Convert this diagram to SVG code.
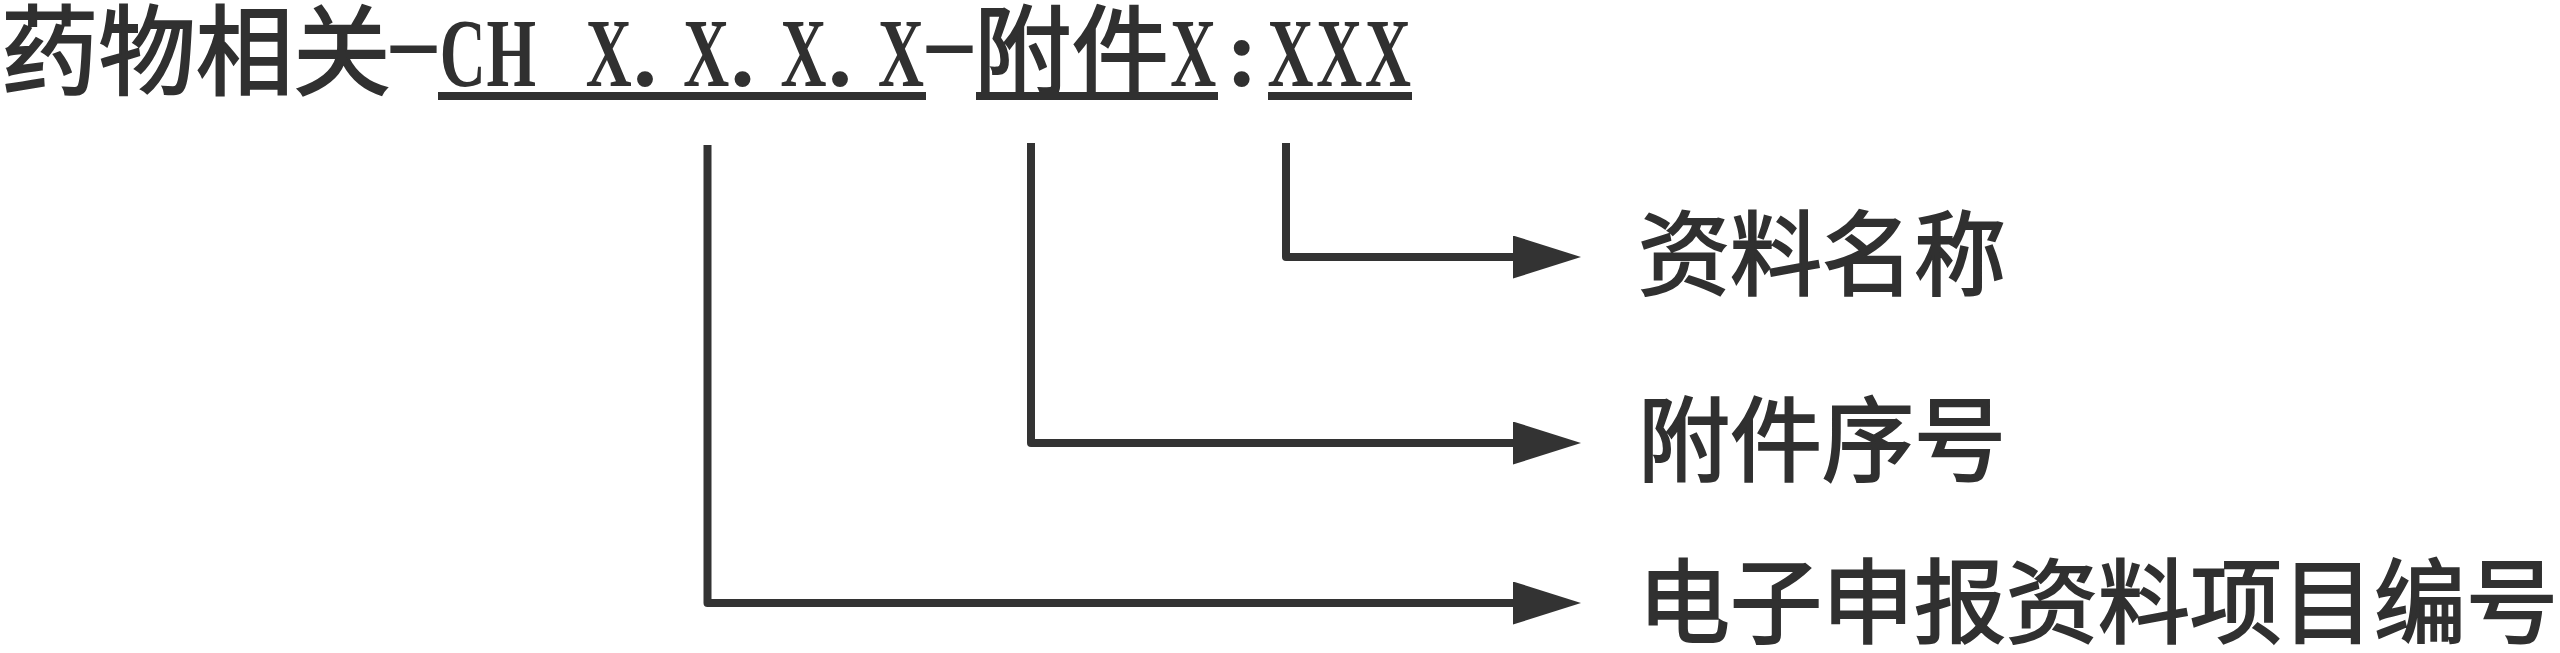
<svg xmlns="http://www.w3.org/2000/svg" width="2560" height="653" viewBox="0 0 2560 653">
<style>
.cjk{font-family:"Noto Sans CJK SC","Noto Sans CJK TC",sans-serif;fill:#303030;stroke:#303030;stroke-width:2}
.t{font-size:97.4px}
.lbl{font-size:92px}
.lat{font-family:"Liberation Serif","Times New Roman",serif;font-weight:bold;font-size:98px;fill:#303030;text-anchor:middle}
.hy{font-family:"Liberation Sans",Arial,sans-serif;font-size:97px;fill:#303030;text-anchor:middle}
.ul{stroke:#303030;stroke-width:8;fill:none}
.conn{stroke:#333;stroke-width:8;fill:none;stroke-linejoin:round}
</style>
<defs>
<marker id="ah" markerUnits="userSpaceOnUse" viewBox="0 0 68 43" markerWidth="68" markerHeight="43" refX="8" refY="21.5" orient="auto">
<path d="M0,0 L68,21.5 L0,43 Z" fill="#333"/>
</marker>
</defs>
<rect width="2560" height="653" fill="#ffffff"/>
<g id="title">
<text class="cjk t" x="1" y="87">药物相关</text>
<text class="hy" transform="translate(413.5,75) scale(1.95,1)">-</text>
<g transform="scale(0.65,1)">
<text class="lat" x="711.77 786.69" y="86">CH</text>
<text class="lat" x="936.54 1086.38 1236.23 1386.08" y="86">XXXX</text>
<text class="lat" x="1835.62" y="86">X</text>
<text class="lat" x="1985.46 2060.38 2135.31" y="86">XXX</text>
</g>
<text class="lat" x="645.1 742.5 839.9" y="86">...</text>
<text class="hy" transform="translate(949.6,75) scale(1.95,1)">-</text>
<text class="cjk t" x="974" y="87">附件</text>
<text class="lat" x="1242" y="86">:</text>
<line class="ul" x1="438" y1="96" x2="926" y2="96"/>
<line class="ul" x1="976" y1="96" x2="1218" y2="96"/>
<line class="ul" x1="1268" y1="96" x2="1412" y2="96"/>
</g>
<g id="connectors">
<path class="conn" d="M1286,143 V257 H1521" marker-end="url(#ah)"/>
<path class="conn" d="M1031,143 V443 H1521" marker-end="url(#ah)"/>
<path class="conn" d="M707.5,145 V603 H1521" marker-end="url(#ah)"/>
</g>
<g id="node-name"><text class="cjk lbl" x="1638" y="288">资料名称</text></g>
<g id="node-attach"><text class="cjk lbl" x="1638" y="474">附件序号</text></g>
<g id="node-code"><text class="cjk lbl" x="1638" y="636">电子申报资料项目编号</text></g>
</svg>
